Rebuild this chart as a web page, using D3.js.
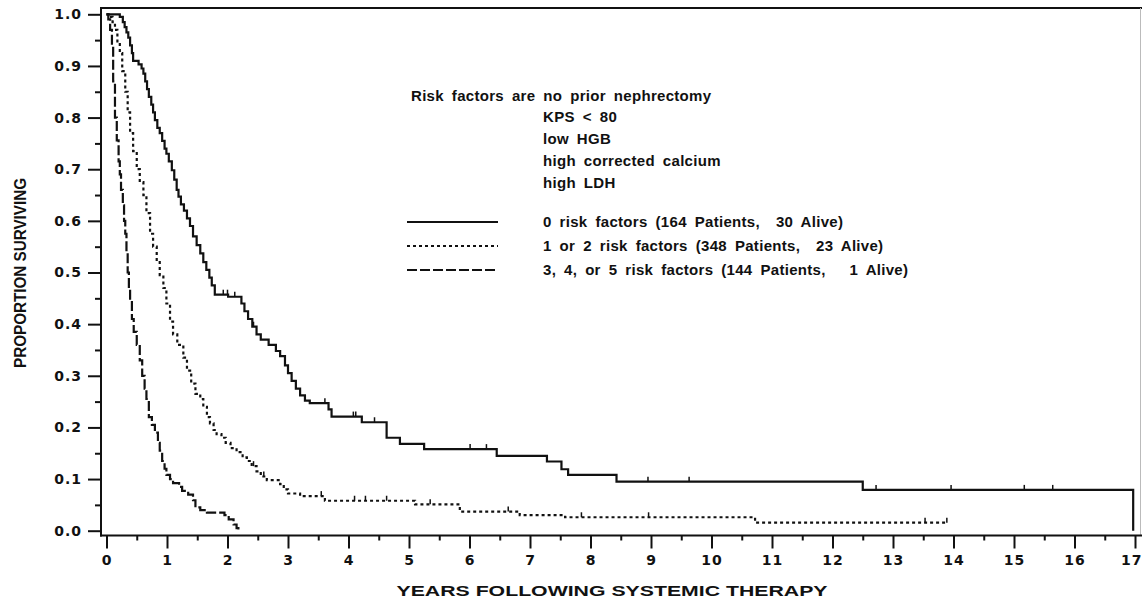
<!DOCTYPE html>
<html>
<head>
<meta charset="utf-8">
<style>
    * {
        padding: 0;
        margin: 0;
    }
    body { background: #fff; }
    svg { display: block; }
    text {
        font-family: "Liberation Sans", Arial, sans-serif;
        font-weight: bold;
        fill: #111;
    }
</style>
<script src="https://cdn.jsdelivr.net/npm/d3@7/dist/d3.min.js"></script>
</head>
<body>
<script>

    /////////////////////////////////////////////////////
    // DATA
    /////////////////////////////////////////////////////

    //Kaplan-Meier steps: [years, proportion surviving]
    const zeroRisk = [
        [0, 1], [0.22, 0.995], [0.27, 0.985], [0.3, 0.975], [0.33, 0.965], [0.36, 0.955], [0.39, 0.94], [0.42, 0.925],
        [0.44, 0.91], [0.53, 0.903], [0.58, 0.895], [0.61, 0.885], [0.64, 0.87], [0.67, 0.855], [0.7, 0.84], [0.74, 0.825],
        [0.77, 0.81], [0.8, 0.795], [0.84, 0.78], [0.88, 0.77], [0.92, 0.755], [0.96, 0.74], [0.99, 0.73], [1.03, 0.715],
        [1.08, 0.698], [1.12, 0.68], [1.16, 0.66], [1.19, 0.647], [1.23, 0.632], [1.28, 0.62], [1.33, 0.605], [1.38, 0.59],
        [1.43, 0.57], [1.49, 0.553], [1.55, 0.537], [1.6, 0.52], [1.65, 0.505], [1.7, 0.49], [1.74, 0.475], [1.79, 0.457],
        [2.01, 0.453], [2.23, 0.44], [2.28, 0.425], [2.34, 0.41], [2.41, 0.395], [2.48, 0.38], [2.55, 0.37], [2.68, 0.36],
        [2.8, 0.348], [2.87, 0.338], [2.95, 0.32], [3.0, 0.305], [3.06, 0.29], [3.13, 0.275], [3.2, 0.262], [3.28, 0.252],
        [3.36, 0.247], [3.67, 0.235], [3.72, 0.221], [4.22, 0.21], [4.63, 0.18], [4.85, 0.168], [5.25, 0.158], [6.45, 0.145],
        [7.28, 0.134], [7.52, 0.119], [7.63, 0.108], [8.43, 0.095], [12.5, 0.079], [16.97, 0]
    ]
    const oneTwoRisk = [
        [0, 1], [0.05, 0.995], [0.1, 0.985], [0.14, 0.97], [0.18, 0.945], [0.22, 0.925], [0.26, 0.89], [0.31, 0.85],
        [0.35, 0.81], [0.39, 0.77], [0.44, 0.735], [0.5, 0.7], [0.55, 0.675], [0.61, 0.65], [0.66, 0.615], [0.72, 0.575],
        [0.77, 0.55], [0.83, 0.52], [0.88, 0.495], [0.94, 0.47], [0.99, 0.44], [1.05, 0.405], [1.1, 0.38], [1.17, 0.36],
        [1.27, 0.335], [1.33, 0.31], [1.4, 0.285], [1.47, 0.265], [1.55, 0.255], [1.6, 0.24], [1.66, 0.22], [1.71, 0.208],
        [1.77, 0.195], [1.82, 0.187], [1.9, 0.18], [1.97, 0.17], [2.05, 0.16], [2.15, 0.152], [2.25, 0.142], [2.32, 0.135],
        [2.4, 0.125], [2.48, 0.115], [2.55, 0.105], [2.65, 0.098], [2.87, 0.09], [2.93, 0.08], [3.0, 0.072], [3.2, 0.067],
        [3.61, 0.058], [5.1, 0.051], [5.84, 0.037], [6.83, 0.03], [7.58, 0.026], [10.72, 0.0155], [13.89, 0.0155]
    ]
    const threePlusRisk = [
        [0, 1], [0.03, 0.99], [0.06, 0.97], [0.09, 0.94], [0.11, 0.87], [0.14, 0.8], [0.17, 0.756], [0.2, 0.715],
        [0.22, 0.69], [0.24, 0.66], [0.27, 0.63], [0.29, 0.6], [0.31, 0.575], [0.33, 0.54], [0.35, 0.5], [0.37, 0.47],
        [0.39, 0.447], [0.42, 0.41], [0.45, 0.385], [0.5, 0.36], [0.55, 0.33], [0.59, 0.3], [0.63, 0.275], [0.66, 0.255],
        [0.7, 0.22], [0.75, 0.205], [0.8, 0.19], [0.85, 0.17], [0.88, 0.155], [0.92, 0.135], [0.96, 0.12], [0.99, 0.108],
        [1.05, 0.1], [1.1, 0.092], [1.2, 0.085], [1.25, 0.077], [1.35, 0.07], [1.43, 0.059], [1.47, 0.045], [1.55, 0.04],
        [1.66, 0.035], [1.95, 0.03], [2.02, 0.022], [2.1, 0.012], [2.15, 0.005], [2.18, 0]
    ]

    //Censored observations (years)
    const zeroCensor = [1.93, 2.0, 2.12, 2.43, 3.61, 4.08, 4.12, 4.43, 6.01, 6.28, 8.95, 9.63, 12.72, 13.96, 15.17, 15.64]
    const oneTwoCensor = [2.43, 2.6, 3.55, 4.1, 4.28, 4.63, 5.35, 6.64, 7.85, 8.96, 13.53, 13.89]

    const seriesNames = [
        "0 risk factors (164 Patients,  30 Alive)",
        "1 or 2 risk factors (348 Patients,  23 Alive)",
        "3, 4, or 5 risk factors (144 Patients,   1 Alive)"
    ]
    const riskFactors = ["no prior nephrectomy", "KPS < 80", "low HGB", "high corrected calcium", "high LDH"]

    const xTicks = d3.range(0, 18)
    const yTicks = d3.range(0, 11).map(d => d / 10)

    /////////////////////////////////////////////////////
    // SETUP
    /////////////////////////////////////////////////////

    const width = 1142
    const height = 599

    const svg = d3.select("body").append("svg")
        .attr("width", width)
        .attr("height", height)

    const x = d3.scaleLinear().domain([0, 17]).range([106.5, 1135])
    const y = d3.scaleLinear().domain([0, 1]).range([530.7, 14.3])

    const axisY = 535.5
    const axisX = 101

    const styles = [
        { dash: null },
        { dash: "3,3" },
        { dash: "10,3" }
    ]

    /////////////////////////////////////////////////////
    // FRAME + AXES
    /////////////////////////////////////////////////////

    svg.append("line")
        .attr("x1", axisX).attr("x2", width).attr("y1", 8).attr("y2", 8)
        .attr("stroke", "#111").attr("stroke-width", 2)
    svg.append("line")
        .attr("x1", 1140.5).attr("x2", 1140.5).attr("y1", 8).attr("y2", axisY)
        .attr("stroke", "#bbb").attr("stroke-width", 1)
    svg.append("line")
        .attr("x1", axisX).attr("x2", axisX).attr("y1", 7).attr("y2", axisY + 1)
        .attr("stroke", "#111").attr("stroke-width", 2)
    svg.append("line")
        .attr("x1", axisX - 1).attr("x2", width).attr("y1", axisY).attr("y2", axisY)
        .attr("stroke", "#111").attr("stroke-width", 2)

    const tickFont = g => g.selectAll(".tick text")
        .style("font-family", "'DejaVu Sans', sans-serif")
        .style("font-size", "14px")
        .style("font-weight", "bold")
        .style("letter-spacing", "1px")

    const gx = svg.append("g")
        .attr("transform", `translate(0,${axisY})`)
        .call(d3.axisBottom(x).tickValues(xTicks).tickSize(13).tickPadding(7).tickFormat(d3.format("d")))
    gx.select(".domain").remove()
    gx.selectAll(".tick line").attr("stroke", "#111").attr("stroke-width", 2)
    gx.call(tickFont)
    //last label sits against the right edge, as in the original
    gx.selectAll(".tick text").filter(d => d === 17).attr("text-anchor", "end").attr("x", 1142 - x(17))

    //minor ticks at the half years
    const gxMinor = svg.append("g")
        .attr("transform", `translate(0,${axisY})`)
        .call(d3.axisBottom(x).tickValues(d3.range(0.5, 17, 1)).tickSize(5).tickFormat(""))
    gxMinor.select(".domain").remove()
    gxMinor.selectAll(".tick line").attr("stroke", "#111").attr("stroke-width", 2)

    const gy = svg.append("g")
        .attr("transform", `translate(${axisX},0)`)
        .call(d3.axisLeft(y).tickValues(yTicks).tickSize(13).tickPadding(6).tickFormat(d3.format(".1f")))
    gy.select(".domain").remove()
    gy.selectAll(".tick line").attr("stroke", "#111").attr("stroke-width", 2)
    gy.call(tickFont)

    const gyMinor = svg.append("g")
        .attr("transform", `translate(${axisX},0)`)
        .call(d3.axisLeft(y).tickValues(d3.range(0.05, 1, 0.1)).tickSize(6).tickFormat(""))
    gyMinor.select(".domain").remove()
    gyMinor.selectAll(".tick line").attr("stroke", "#111").attr("stroke-width", 2)

    //axis titles
    svg.append("text")
        .attr("transform", "translate(26,273) rotate(-90)")
        .attr("text-anchor", "middle")
        .attr("textLength", 190)
        .attr("lengthAdjust", "spacingAndGlyphs")
        .style("font-size", "17px")
        .text("PROPORTION SURVIVING")

    svg.append("text")
        .attr("x", 612)
        .attr("y", 596)
        .attr("text-anchor", "middle")
        .attr("textLength", 431)
        .attr("lengthAdjust", "spacingAndGlyphs")
        .style("font-size", "15px")
        .text("YEARS FOLLOWING SYSTEMIC THERAPY")

    /////////////////////////////////////////////////////
    // CURVES
    /////////////////////////////////////////////////////

    const line = d3.line()
        .x(d => x(d[0]))
        .y(d => y(d[1]))
        .curve(d3.curveStepAfter)

    const curves = [zeroRisk, oneTwoRisk, threePlusRisk]

    svg.append("g").selectAll("path")
        .data(curves)
        .join("path")
        .attr("d", line)
        .attr("fill", "none")
        .attr("stroke", "#111")
        .attr("stroke-width", 2.2)
        .attr("stroke-dasharray", (d, i) => styles[i].dash)

    //step value at a given time
    const bis = d3.bisector(d => d[0]).right
    const survAt = (pts, t) => pts[Math.max(0, bis(pts, t) - 1)][1]

    const censorSets = [
        { pts: zeroRisk, times: zeroCensor },
        { pts: oneTwoRisk, times: oneTwoCensor }
    ]
    censorSets.forEach(s => {
        svg.append("g").selectAll("line")
            .data(s.times)
            .join("line")
            .attr("x1", d => x(d)).attr("x2", d => x(d))
            .attr("y1", d => y(survAt(s.pts, d)))
            .attr("y2", d => y(survAt(s.pts, d)) - 5)
            .attr("stroke", "#111")
            .attr("stroke-width", 1.5)
    })

    /////////////////////////////////////////////////////
    // LEGEND
    /////////////////////////////////////////////////////

    const legend = svg.append("g")
        .style("font-size", "15px")
        .style("letter-spacing", "0.3px")
        .style("word-spacing", "3.5px")

    legend.append("text")
        .attr("xml:space", "preserve")
        .attr("x", 411)
        .attr("y", 101)
        .text("Risk factors are " + riskFactors[0])

    legend.selectAll("text.rf")
        .data(riskFactors.slice(1))
        .join("text")
        .attr("class", "rf")
        .attr("xml:space", "preserve")
        .attr("x", 543)
        .attr("y", (d, i) => 122 + i * 22)
        .text(d => d)

    const items = legend.selectAll("g.item")
        .data(seriesNames)
        .join("g")
        .attr("class", "item")
        .attr("transform", (d, i) => `translate(0,${222 + i * 24})`)

    items.append("line")
        .attr("x1", 407).attr("x2", 498)
        .attr("stroke", "#111")
        .attr("stroke-width", 2)
        .attr("stroke-dasharray", (d, i) => styles[i].dash)

    items.append("text")
        .attr("xml:space", "preserve")
        .attr("x", 543)
        .attr("y", 5)
        .text(d => d)

</script>
</body>
</html>
